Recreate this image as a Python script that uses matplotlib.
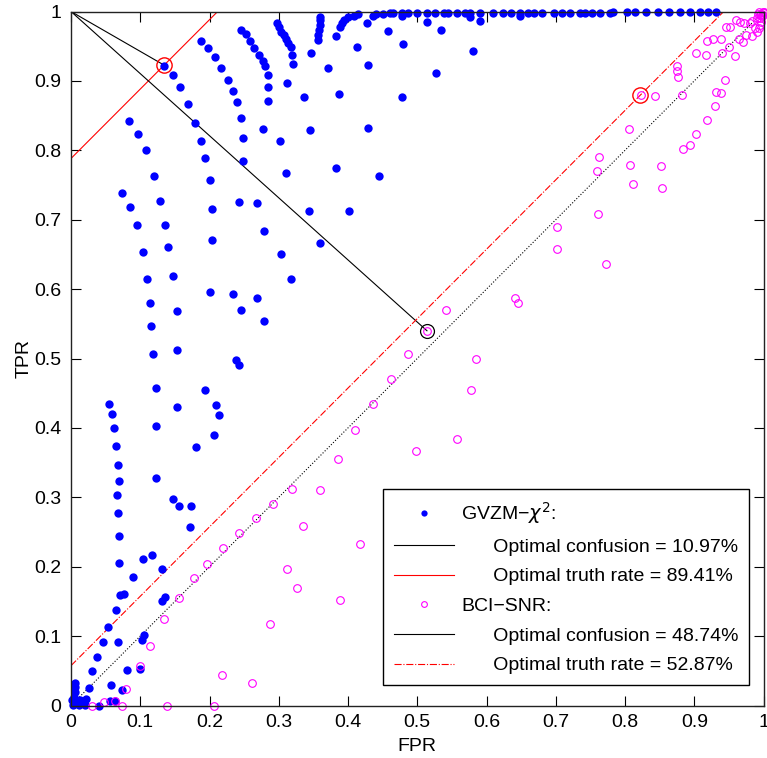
#!/usr/bin/env python3
"""ROC scatter: GVZM-chi^2 vs BCI-SNR with optimal confusion / truth-rate lines."""
import matplotlib

matplotlib.use("Agg")
import matplotlib.pyplot as plt  # noqa: E402

plt.rcParams["font.family"] = ["Liberation Sans", "DejaVu Sans"]
plt.rcParams["mathtext.fontset"] = "dejavusans"

# GVZM-chi^2 ROC points (FPR, TPR)
gvzm_fpr = [
    0.135, 0.147, 0.158, 0.169, 0.179, 0.188, 0.193, 0.200, 0.204, 0.204,
    0.084, 0.097, 0.109, 0.120, 0.129, 0.136, 0.140, 0.074, 0.085, 0.095, 0.104,
    0.188, 0.198, 0.208, 0.217, 0.226, 0.234, 0.240, 0.245, 0.248, 0.249, 0.243, 0.268, 0.278, 0.303,
    0.246, 0.252, 0.259, 0.264, 0.271, 0.277, 0.280, 0.284, 0.285, 0.285, 0.277, 0.302, 0.310, 0.343, 0.360,
    0.298, 0.300, 0.303, 0.307, 0.311, 0.313, 0.317, 0.319, 0.320, 0.312, 0.336, 0.345, 0.347,
    0.371, 0.383, 0.401, 0.445, 0.429, 0.387, 0.429, 0.413, 0.382, 0.478, 0.480, 0.458, 0.427,
    0.527, 0.514, 0.535, 0.580, 0.478, 0.576, 0.591, 0.648,
    0.360, 0.359, 0.359, 0.358, 0.357, 0.356, 0.388, 0.391, 0.394, 0.400, 0.408, 0.415,
    0.436, 0.441, 0.451, 0.461, 0.465, 0.478, 0.487, 0.499, 0.514, 0.526, 0.538, 0.545, 0.557,
    0.569, 0.576, 0.591, 0.610, 0.624, 0.636, 0.648, 0.660, 0.668, 0.680, 0.697, 0.709, 0.721,
    0.735, 0.742, 0.752, 0.764, 0.778, 0.783, 0.803, 0.814, 0.831, 0.848, 0.863, 0.879, 0.894,
    0.908, 0.920, 0.932,
    0.147, 0.110, 0.318, 0.201, 0.234, 0.269, 0.114, 0.153, 0.246, 0.279, 0.115, 0.119, 0.153,
    0.238, 0.243, 0.123, 0.194, 0.055, 0.153, 0.209, 0.059, 0.213, 0.062, 0.123, 0.206, 0.065,
    0.180, 0.068, 0.069, 0.123, 0.067, 0.148, 0.068, 0.156, 0.174, 0.172, 0.069, 0.070, 0.117,
    0.104, 0.131, 0.089, 0.076, 0.071, 0.136, 0.132, 0.065, 0.054, 0.046, 0.068, 0.106, 0.102,
    0.037, 0.031, 0.081, 0.099, 0.026, 0.058, 0.074, 0.021, 0.057, 0.064, 0.041,
    0.006, 0.006, 0.006, 0.005, 0.004, 0.003, 0.012, 0.020, 0.001, 0.013,
]
gvzm_tpr = [
    0.922, 0.909, 0.891, 0.866, 0.840, 0.814, 0.789, 0.757, 0.716, 0.671,
    0.842, 0.824, 0.800, 0.763, 0.727, 0.693, 0.661, 0.738, 0.718, 0.692, 0.653,
    0.958, 0.948, 0.935, 0.919, 0.902, 0.885, 0.869, 0.847, 0.818, 0.785, 0.726, 0.724, 0.683, 0.651,
    0.974, 0.967, 0.958, 0.947, 0.938, 0.929, 0.921, 0.909, 0.891, 0.871, 0.830, 0.814, 0.768, 0.712, 0.667,
    0.984, 0.978, 0.971, 0.966, 0.961, 0.955, 0.949, 0.938, 0.925, 0.897, 0.877, 0.829, 0.940,
    0.918, 0.775, 0.712, 0.763, 0.832, 0.881, 0.923, 0.949, 0.965, 0.877, 0.953, 0.972, 0.983,
    0.912, 0.985, 0.973, 0.943, 0.993, 0.992, 0.986, 0.994,
    0.992, 0.988, 0.981, 0.973, 0.966, 0.959, 0.978, 0.983, 0.988, 0.992, 0.994, 0.996,
    0.994, 0.996, 0.997, 0.998, 0.998, 0.998, 0.998, 0.998, 0.998, 0.998, 0.998, 0.998, 0.998,
    0.998, 0.998, 0.998, 0.998, 0.998, 0.998, 0.998, 0.998, 0.998, 0.998, 0.998, 0.998, 0.998,
    0.998, 0.998, 0.998, 0.998, 0.998, 0.999, 0.999, 0.999, 0.999, 0.999, 0.999, 0.999, 0.999,
    0.999, 0.999, 0.999,
    0.619, 0.614, 0.614, 0.596, 0.593, 0.587, 0.580, 0.568, 0.570, 0.554, 0.547, 0.507, 0.512,
    0.498, 0.490, 0.458, 0.455, 0.435, 0.430, 0.433, 0.420, 0.419, 0.400, 0.403, 0.390, 0.374,
    0.372, 0.347, 0.324, 0.328, 0.304, 0.297, 0.277, 0.287, 0.287, 0.257, 0.244, 0.206, 0.217,
    0.211, 0.196, 0.185, 0.161, 0.159, 0.156, 0.150, 0.137, 0.113, 0.091, 0.091, 0.102, 0.095,
    0.070, 0.049, 0.051, 0.053, 0.025, 0.029, 0.023, 0.010, 0.006, 0.007, 0.000,
    0.033, 0.027, 0.020, 0.012, 0.005, 0.001, 0.001, 0.001, 0.008, 0.008,
]

# BCI-SNR ROC points (FPR, TPR)
bci_fpr = [
    0.030, 0.047, 0.063, 0.073, 0.079, 0.099, 0.114, 0.134, 0.156, 0.177, 0.197, 0.220,
    0.242, 0.267, 0.292, 0.319, 0.360, 0.335, 0.312, 0.327, 0.288, 0.218, 0.261, 0.206,
    0.139, 0.418, 0.389,
    0.385, 0.498, 0.558, 0.410, 0.436, 0.577, 0.462, 0.585, 0.487, 0.514, 0.542, 0.641,
    0.645, 0.702, 0.702, 0.761, 0.772, 0.811, 0.853, 0.759, 0.763, 0.807, 0.852, 0.806,
    0.884, 0.894, 0.902, 0.918, 0.930, 0.931, 0.938, 0.944, 0.823, 0.843, 0.883, 0.875,
    0.875, 0.877, 0.903, 0.917, 0.918, 0.927, 0.938, 0.940, 0.950, 0.959, 0.946, 0.951,
    0.960, 0.966, 0.972, 0.980, 0.984, 0.990, 0.995, 0.964, 0.970, 0.975, 0.984, 0.990,
    0.994, 0.995, 0.988,
    0.997, 0.999, 1.000, 0.995, 0.998, 0.992, 0.996, 0.999, 1.000, 0.993,
]
bci_tpr = [
    0.000, 0.005, 0.007, 0.000, 0.024, 0.057, 0.086, 0.124, 0.155, 0.184, 0.204, 0.227,
    0.248, 0.270, 0.290, 0.312, 0.311, 0.258, 0.197, 0.170, 0.117, 0.044, 0.033, 0.000,
    0.000, 0.233, 0.152,
    0.355, 0.366, 0.384, 0.397, 0.434, 0.454, 0.470, 0.499, 0.506, 0.539, 0.570, 0.587,
    0.580, 0.689, 0.658, 0.708, 0.636, 0.751, 0.746, 0.770, 0.790, 0.779, 0.778, 0.831,
    0.802, 0.808, 0.823, 0.843, 0.864, 0.884, 0.883, 0.901, 0.879, 0.878, 0.880, 0.922,
    0.914, 0.905, 0.940, 0.937, 0.958, 0.961, 0.960, 0.940, 0.949, 0.936, 0.978, 0.978,
    0.988, 0.985, 0.984, 0.983, 0.987, 0.990, 0.995, 0.961, 0.956, 0.966, 0.965, 0.971,
    0.976, 0.981, 0.976,
    0.997, 0.999, 1.000, 0.990, 0.993, 0.996, 0.985, 0.995, 0.998, 0.999,
]

# optimal operating points
gvzm_opt = (0.1345, 0.9227)
bci_conf_opt = (0.514, 0.540)
bci_truth_opt = (0.822, 0.8794)
gvzm_truth_offset = 0.7882  # TPR - FPR on the iso-truth line
bci_truth_offset = 0.0574

labels = [
    "GVZM\u2212$\\chi^2$:",
    "      Optimal confusion = 10.97%",
    "      Optimal truth rate = 89.41%",
    "BCI\u2212SNR:",
    "      Optimal confusion = 48.74%",
    "      Optimal truth rate = 52.87%",
]

fig = plt.figure(figsize=(7.67, 7.58), dpi=100)
ax = fig.add_axes([71 / 767, 1 - 705.5 / 758, 692.5 / 767, 694 / 758])

h_gvzm, = ax.plot(gvzm_fpr, gvzm_tpr, "o", color="#0000ff", ms=6, mew=0,
                  clip_on=False, zorder=3, label=labels[0])
h_gc, = ax.plot([0, gvzm_opt[0]], [1, gvzm_opt[1]], "-", color="black", lw=0.8, label=labels[1])
h_gt, = ax.plot([0, 1 - gvzm_truth_offset], [gvzm_truth_offset, 1], "-", color="red", lw=0.8,
                label=labels[2])
h_bci, = ax.plot(bci_fpr, bci_tpr, "o", mfc="none", mec="#ff00ff", ms=5.5, mew=0.8,
                 clip_on=False, zorder=3, label=labels[3])
h_bc, = ax.plot([0, bci_conf_opt[0]], [1, bci_conf_opt[1]], "-", color="black", lw=0.8,
                label=labels[4])
h_bt, = ax.plot([0, 1 - bci_truth_offset], [bci_truth_offset, 1], "-.", color="red", lw=0.8,
                label=labels[5])
ax.plot([0, 1], [0, 1], ":", color="black", lw=0.8)

# rings around the optimal points
ax.plot(*gvzm_opt, "o", mfc="none", mec="red", ms=11, mew=1, zorder=4)
ax.plot(*bci_conf_opt, "o", mfc="none", mec="black", ms=10, mew=0.9, zorder=4)
ax.plot(*bci_truth_opt, "o", mfc="none", mec="red", ms=11, mew=1, zorder=4)

ax.set_xlim(0, 1)
ax.set_ylim(0, 1)
ticks = [i / 10 for i in range(11)]
tick_labels = ["0"] + [f"{t:.1f}" for t in ticks[1:-1]] + ["1"]
ax.set_xticks(ticks, tick_labels)
ax.set_yticks(ticks, tick_labels)
ax.tick_params(direction="in", length=7, width=0.8, top=True, right=True,
               labelsize=14, colors="black")
ax.tick_params(axis="x", pad=6)
ax.tick_params(axis="y", pad=7)
for sp in ax.spines.values():
    sp.set_linewidth(1.0)
    sp.set_color("#222222")
    sp.set_zorder(5)

ax.set_xlabel("FPR", fontsize=14, labelpad=5)
ax.set_ylabel("TPR", fontsize=14, labelpad=1)

leg = ax.legend(handles=[h_gvzm, h_gc, h_gt, h_bci, h_bc, h_bt], loc="lower right",
                bbox_to_anchor=(0.9795, 0.0295), fontsize=14, frameon=True,
                fancybox=False, framealpha=1, edgecolor="black", handlelength=3.1,
                handletextpad=0.35, labelspacing=0.62, borderpad=0.55,
                borderaxespad=0, numpoints=1, markerscale=0.75)
leg.get_frame().set_linewidth(1.0)
leg.set_zorder(6)

fig.savefig("out.png", dpi=100)
